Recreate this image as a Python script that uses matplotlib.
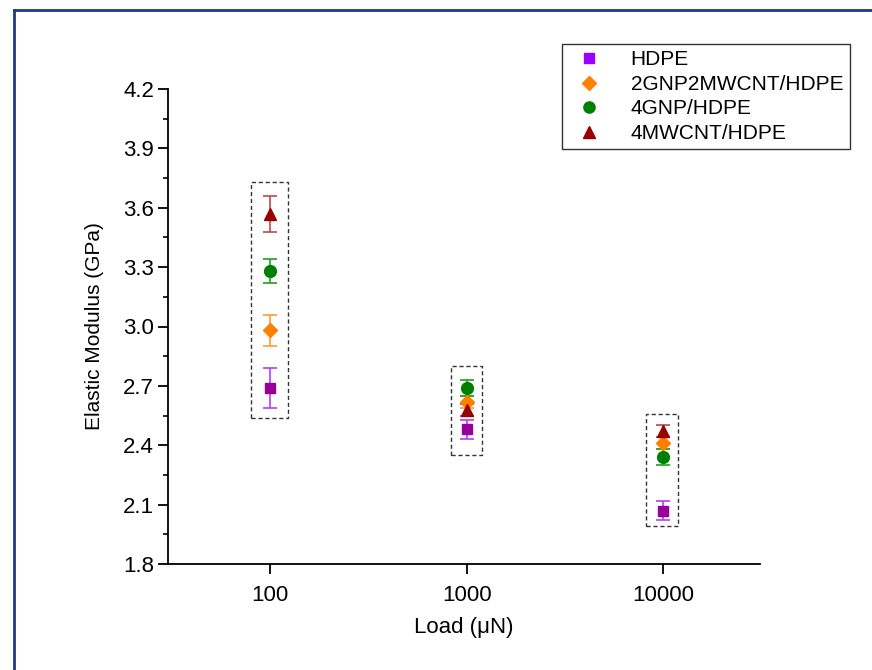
import matplotlib
matplotlib.use("Agg")
import matplotlib.pyplot as plt
from matplotlib.patches import Rectangle
from matplotlib.lines import Line2D
from matplotlib.ticker import MultipleLocator, FixedLocator, NullLocator

plt.rcParams['font.family'] = ['Liberation Sans', 'DejaVu Sans']

# load levels (uN)
loads = [100, 1000, 10000]

# elastic modulus (GPa) and errors
hdpe = [2.69, 2.48, 2.07]
hdpe_err = [0.10, 0.05, 0.05]
gnp_mwcnt = [2.98, 2.62, 2.41]
gnp_mwcnt_err = [0.08, 0.03, 0.03]
gnp = [3.28, 2.69, 2.34]
gnp_err = [0.06, 0.04, 0.04]
mwcnt = [3.57, 2.58, 2.47]
mwcnt_err = [0.09, 0.03, 0.03]

# dashed grouping boxes: (x0, x1, y0, y1)
boxes = [(80, 124, 2.54, 3.73), (830, 1200, 2.35, 2.80), (8200, 11900, 1.99, 2.56)]

series = [
    ("HDPE", hdpe, hdpe_err, 's', '#990099', '#B040FF', 7),
    ("2GNP2MWCNT/HDPE", gnp_mwcnt, gnp_mwcnt_err, 'D', '#FF8000', '#FF9A30', 7),
    ("4GNP/HDPE", gnp, gnp_err, 'o', '#008000', '#20A020', 8.5),
    ("4MWCNT/HDPE", mwcnt, mwcnt_err, '^', '#990000', '#C04848', 9),
]

fig = plt.figure(figsize=(8.72, 6.7), dpi=100)
ax = fig.add_axes([168/872, 1-564/670, (760-168)/872, (564-89)/670])

for name, vals, errs, mk, col, ecol, ms in series:
    ax.errorbar(loads, vals, yerr=errs, fmt=mk, color=col, ecolor=ecol,
                markersize=ms, markeredgecolor=col, elinewidth=1.2, capsize=5,
                capthick=1.2, linestyle='none', label=name, zorder=3)

for x0, x1, y0, y1 in boxes:
    ax.add_patch(Rectangle((x0, y0), x1 - x0, y1 - y0, fill=False,
                           edgecolor='#333333', linestyle=(0, (3, 2)), linewidth=1.0, zorder=2))

ax.set_xscale('log')
ax.set_xlim(30.3, 31000)
ax.set_ylim(1.8, 4.2)
ax.xaxis.set_major_locator(FixedLocator(loads))
ax.set_xticklabels(['100', '1000', '10000'])
ax.xaxis.set_minor_locator(NullLocator())
ax.yaxis.set_major_locator(MultipleLocator(0.3))
ax.yaxis.set_minor_locator(MultipleLocator(0.15))
ax.yaxis.set_major_formatter(matplotlib.ticker.FormatStrFormatter('%.1f'))

for s in ['top', 'right']:
    ax.spines[s].set_visible(False)
for s in ['left', 'bottom']:
    ax.spines[s].set_linewidth(1.3)
ax.tick_params(which='major', direction='out', length=7, width=1.3, labelsize=16, pad=3)
ax.tick_params(axis='x', which='major', pad=8)
ax.tick_params(which='minor', direction='out', length=3.5, width=1.2)

ax.set_xlabel('Load (\u03bcN)', fontsize=16, labelpad=8)
ax.set_ylabel('Elastic Modulus (GPa)', fontsize=15, labelpad=14)

handles, labels = ax.get_legend_handles_labels()
handles = [Line2D([], [], marker=mk, color=col if mk != 's' else '#9900FF', linestyle='none',
                  markersize=ms * 0.95)
           for _, _, _, mk, col, _, ms in series]
leg = fig.legend(handles, labels, loc='upper left', bbox_to_anchor=(562/872, 1-44/670),
                 fontsize=15, frameon=True, fancybox=False, edgecolor='black',
                 borderpad=0.3, labelspacing=0.27, handletextpad=1.0, borderaxespad=0,
                 handlelength=2.0)
leg.get_frame().set_linewidth(1.0)

# outer navy frame (top and left edges)
fig.add_artist(Line2D([14/872, 1], [1-9.5/670, 1-9.5/670], color='#1F3A80', linewidth=2.0,
                      transform=fig.transFigure))
fig.add_artist(Line2D([14/872, 14/872], [0, 1-9.5/670], color='#1F3A80', linewidth=2.0,
                      transform=fig.transFigure))

fig.savefig('out.png', dpi=100)
